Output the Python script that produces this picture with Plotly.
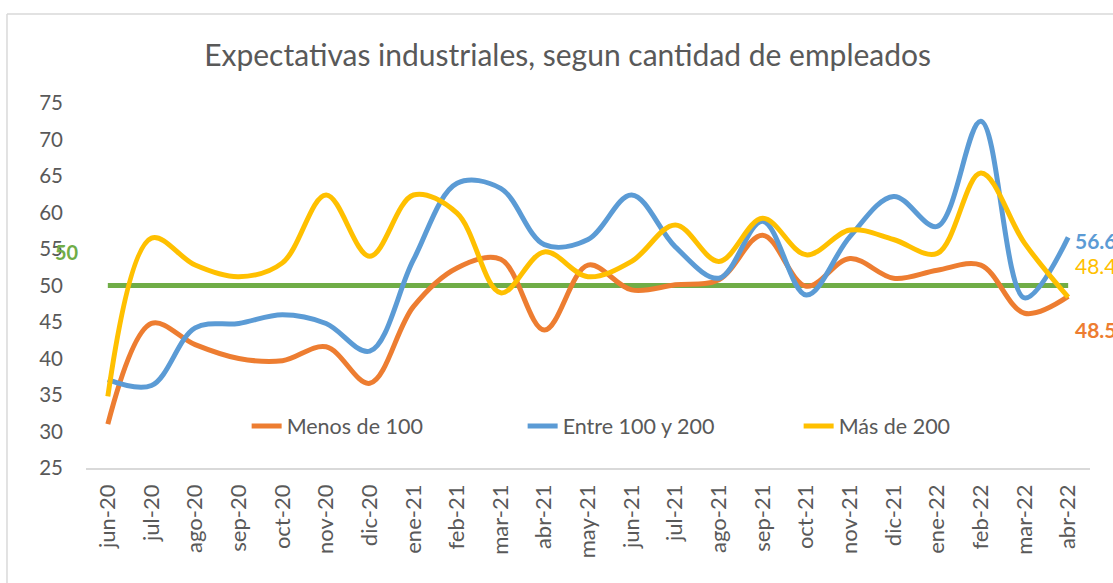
import plotly.graph_objects as go

months = ["jun-20", "jul-20", "ago-20", "sep-20", "oct-20", "nov-20", "dic-20",
          "ene-21", "feb-21", "mar-21", "abr-21", "may-21", "jun-21", "jul-21",
          "ago-21", "sep-21", "oct-21", "nov-21", "dic-21", "ene-22", "feb-22",
          "mar-22", "abr-22"]

menos_100 = [31.0, 44.8, 41.9, 40.0, 39.7, 41.6, 36.6, 47.1, 52.4, 53.6, 43.9,
             52.8, 49.4, 50.1, 50.8, 56.9, 49.9, 53.7, 51.0, 52.1, 52.8, 46.2, 48.5]
entre_100_200 = [37.1, 36.3, 44.2, 44.8, 46.0, 44.8, 41.0, 53.5, 64.0, 63.3, 55.6,
                 56.3, 62.4, 55.3, 51.0, 58.8, 48.7, 56.7, 62.2, 58.1, 72.5, 48.3, 56.6]
mas_200 = [34.8, 56.5, 52.8, 51.2, 53.1, 62.4, 54.0, 62.4, 59.9, 49.0, 54.6,
           51.2, 53.3, 58.3, 53.3, 59.2, 54.2, 57.6, 56.3, 54.4, 65.4, 55.8, 48.4]
referencia = [50] * len(months)

series_names = ["Menos de 100", "Entre 100 y 200", "Más de 200"]
colors = ["#ED7D31", "#5B9BD5", "#FFC000"]
green = "#70AD47"
FONT = "Lato"
GRAY = "#595959"

fig = go.Figure()
fig.add_trace(go.Scatter(x=months, y=referencia, mode="lines", showlegend=False,
                         line=dict(color=green, width=5), hoverinfo="skip"))
for name, vals, c in zip(series_names, [menos_100, entre_100_200, mas_200], colors):
    fig.add_trace(go.Scatter(x=months, y=vals, mode="lines", name=name,
                             line=dict(color=c, width=5, shape="spline", smoothing=1.0)))

# end labels
last = len(months) - 1
fig.add_annotation(x=last, y=56.2, text="<b>56.6</b>", showarrow=False, xanchor="left",
                   xshift=5, font=dict(color=colors[1], size=21, family=FONT))
fig.add_annotation(x=last, y=52.8, text="48.4", showarrow=False, xanchor="left",
                   xshift=5, font=dict(color=colors[2], size=21, family=FONT))
fig.add_annotation(x=last, y=44.0, text="<b>48.5</b>", showarrow=False, xanchor="left",
                   xshift=5, font=dict(color=colors[0], size=21, family=FONT))
fig.add_annotation(xref="paper", x=-0.005, y=54.6, text="<b>50</b>", showarrow=False,
                   xanchor="right", font=dict(color=green, size=20, family=FONT))

# chart border (left and top)
fig.add_shape(type="line", xref="paper", yref="paper", x0=-0.0787, x1=1.05,
              y0=1.2438, y1=1.2438, line=dict(color="#D9D9D9", width=1.5))
fig.add_shape(type="line", xref="paper", yref="paper", x0=-0.0787, x1=-0.0787,
              y0=1.2438, y1=-0.35, line=dict(color="#D9D9D9", width=1.5))

fig.update_layout(
    width=1113, height=583,
    margin=dict(l=86, r=23, t=103, b=115),
    paper_bgcolor="white", plot_bgcolor="white",
    title=dict(text="Expectativas industriales, segun cantidad de empleados",
               x=0.51, xanchor="center", y=0.905, yanchor="middle",
               font=dict(family=FONT, size=30, color=GRAY)),
    font=dict(family=FONT, color=GRAY),
    legend=dict(orientation="h", x=0.16, xanchor="left", y=0.115, yanchor="middle",
                bgcolor="rgba(0,0,0,0)", font=dict(size=21.5, color=GRAY, family=FONT),
                entrywidth=231, entrywidthmode="pixels"),
    showlegend=True,
)
fig.update_xaxes(type="category", range=[-0.5, 22.5], tickangle=-90,
                 showgrid=False, showline=True, linecolor="#D9D9D9", linewidth=1.5,
                 ticks="", ticklabelstandoff=6,
                 tickfont=dict(size=22, color=GRAY, family=FONT))
fig.update_yaxes(range=[25, 75], dtick=5, tick0=25, showgrid=False, zeroline=False,
                 showline=False, ticks="", ticklabelstandoff=22,
                 tickfont=dict(size=20.5, color=GRAY, family=FONT))

fig.write_html("out.html", config={"displayModeBar": False},
               post_script="document.body.style.margin='0';")
